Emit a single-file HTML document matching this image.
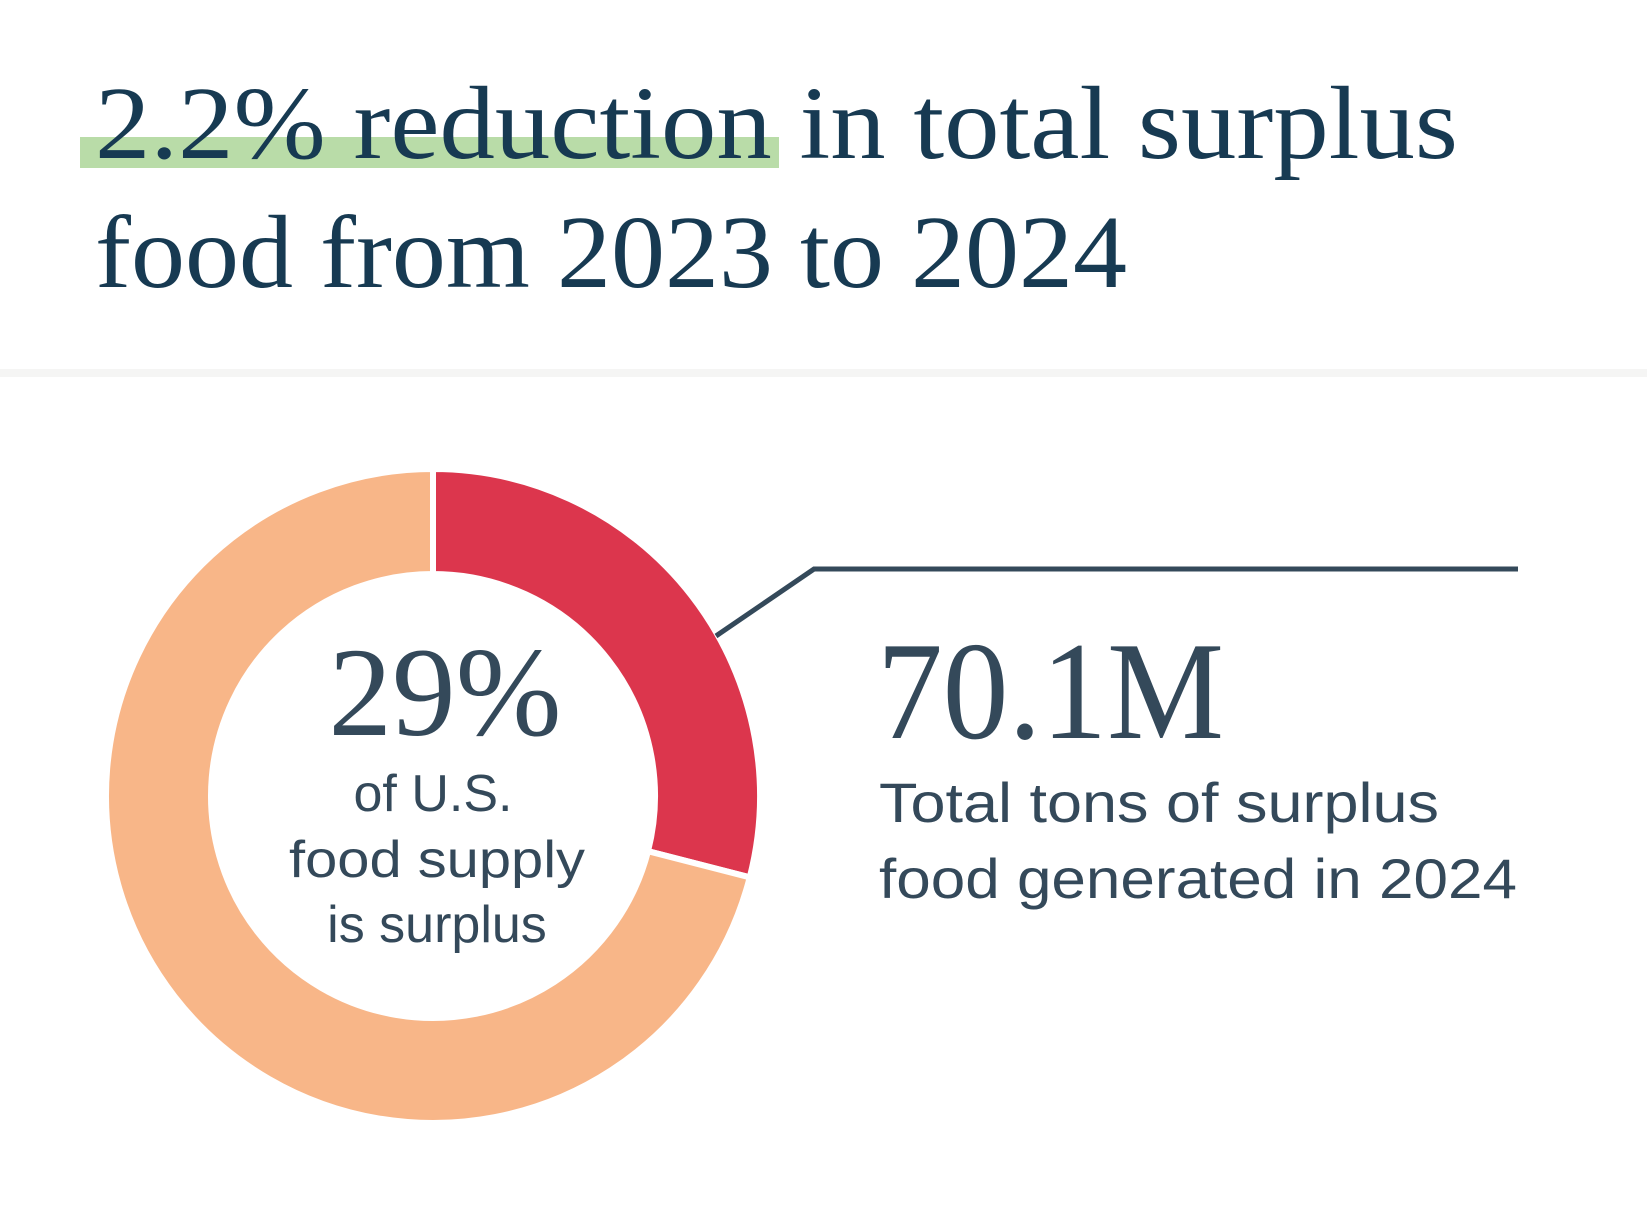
<!DOCTYPE html>
<html><head><meta charset="utf-8"><style>
html,body{margin:0;padding:0;background:#fff;}
svg{display:block;}
</style></head><body>
<svg id="chart" width="1647" height="1212" viewBox="0 0 1647 1212" xmlns="http://www.w3.org/2000/svg">
  <rect x="80" y="137" width="699" height="31" fill="#b9dca8"/>
  <text x="95" y="158" font-family="Liberation Serif, serif" font-size="104" fill="#173a52" textLength="1363" lengthAdjust="spacingAndGlyphs">2.2% reduction in total surplus</text>
  <text x="95" y="287" font-family="Liberation Serif, serif" font-size="104" fill="#173a52" textLength="1032" lengthAdjust="spacingAndGlyphs">food from 2023 to 2024</text>
  <rect x="0" y="369" width="1647" height="8" fill="#f5f5f4"/>
  <g id="donut"></g>
  <polyline points="716,636 814,569 1518,569" fill="none" stroke="#34495a" stroke-width="5"/>
  <text x="445" y="735" text-anchor="middle" font-family="Liberation Serif, serif" font-size="127" fill="#34495a" textLength="233" lengthAdjust="spacingAndGlyphs">29%</text>
  <text x="433" y="811" text-anchor="middle" font-family="Liberation Sans, sans-serif" font-size="52" fill="#34495a">of U.S.</text>
  <text x="437" y="877" text-anchor="middle" font-family="Liberation Sans, sans-serif" font-size="52" fill="#34495a" textLength="296" lengthAdjust="spacingAndGlyphs">food supply</text>
  <text x="437" y="942" text-anchor="middle" font-family="Liberation Sans, sans-serif" font-size="52" fill="#34495a">is surplus</text>
  <text x="877" y="738" font-family="Liberation Serif, serif" font-size="140" fill="#34495a" textLength="347" lengthAdjust="spacingAndGlyphs">70.1M</text>
  <text x="879" y="822" font-family="Liberation Sans, sans-serif" font-size="56" fill="#34495a" textLength="560" lengthAdjust="spacingAndGlyphs">Total tons of surplus</text>
  <text x="879" y="898" font-family="Liberation Sans, sans-serif" font-size="56" fill="#34495a" textLength="638" lengthAdjust="spacingAndGlyphs">food generated in 2024</text>
</svg>
<script>
const categories = ["surplus", "non-surplus"];
const shares = [29, 71];
const colors = ["#dc364d", "#f8b688"];

const cx = 433, cy = 796, R = 327, r = 222;
const total = shares.reduce((a, b) => a + b, 0);
function angle(v) { return v / total * 2 * Math.PI; }
function pt(a, rad) { return [cx + rad * Math.sin(a), cy - rad * Math.cos(a)]; }
const g = document.getElementById('donut');
const NS = 'http://www.w3.org/2000/svg';
let acc = 0;
shares.forEach((v, i) => {
  const a0 = angle(acc), a1 = angle(acc + v);
  acc += v;
  const large = (a1 - a0) > Math.PI ? 1 : 0;
  const [x0, y0] = pt(a0, R), [x1, y1] = pt(a1, R);
  const [x2, y2] = pt(a1, r), [x3, y3] = pt(a0, r);
  const p = document.createElementNS(NS, 'path');
  p.setAttribute('d', `M${x0},${y0} A${R},${R} 0 ${large} 1 ${x1},${y1} L${x2},${y2} A${r},${r} 0 ${large} 0 ${x3},${y3} Z`);
  p.setAttribute('fill', colors[i]);
  p.setAttribute('stroke', '#fff');
  p.setAttribute('stroke-width', '6');
  
  
  g.appendChild(p);
});
</script>
</body></html>
